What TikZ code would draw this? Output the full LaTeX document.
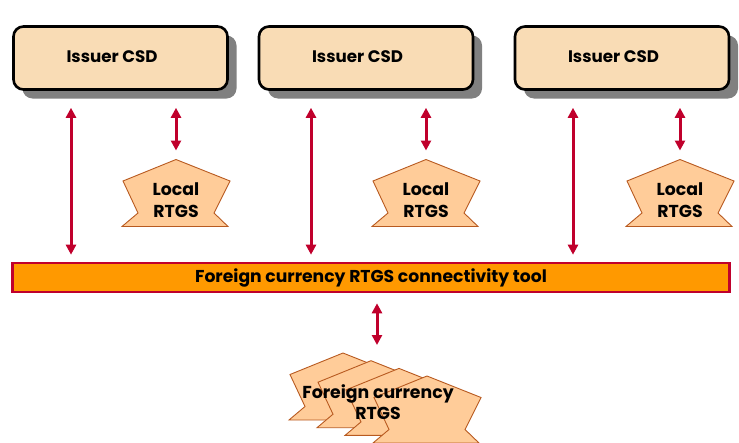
\documentclass[tikz,border=0pt]{standalone}
\usepackage{fontspec}
\setmainfont{Poppins}
\usetikzlibrary{arrows.meta,shadows}

\definecolor{csdfill}{HTML}{F9DCB5}
\definecolor{shadowgrey}{HTML}{808080}
\definecolor{linkred}{HTML}{C0002C}
\definecolor{barfill}{HTML}{FF9900}
\definecolor{barline}{HTML}{C0002C}
\definecolor{rtgsfill}{HTML}{FFCC99}
\definecolor{rtgsline}{HTML}{B85A20}

\tikzset{
  csd/.style={draw=black, line width=2.6pt, fill=csdfill, rounded corners=10pt,
    minimum width=214pt, minimum height=63pt, inner sep=0pt,
    font=\fontsize{16.7}{20}\selectfont\bfseries,
    drop shadow={shadow xshift=9pt, shadow yshift=-9pt, fill=shadowgrey, opacity=1}},
  bar/.style={draw=barline, line width=2.6pt, fill=barfill,
    minimum width=717pt, minimum height=29pt, inner sep=0pt,
    font=\fontsize{17.2}{20}\selectfont\bfseries},
  rtgs/.style={draw=rtgsline, line width=0.9pt, fill=rtgsfill, line join=miter},
  rtgstext/.style={align=center, inner sep=0pt,
    font=\fontsize{17.3}{21.5}\selectfont\bfseries},
  link/.style={draw=linkred, line width=3pt,
    {Triangle[width=10pt,length=10pt]}-{Triangle[width=10pt,length=10pt]}}
}

% outline of an RTGS marker, given its top point
\newcommand\rtgsoutline[1]{%
  \filldraw[rtgs] (#1) -- ++(-53,21.5) -- ++(15,32) -- ++(-16,13.5)
    -- ++(106,0) -- ++(-14,-13.5) -- ++(16,-32) -- cycle;}

\begin{document}
\begin{tikzpicture}[x=1pt,y=-1pt]
\useasboundingbox (0,0) rectangle (739,442);

% issuer CSDs
\node[csd] (csd1) at (120.5,58) {\hspace*{-17pt}\raisebox{2pt}{Issuer CSD}};
\node[csd] (csd2) at (366,58)   {\hspace*{-17pt}\raisebox{2pt}{Issuer CSD}};
\node[csd] (csd3) at (622,58)   {\hspace*{-17pt}\raisebox{2pt}{Issuer CSD}};

% connectivity tool
\node[bar] (tool) at (371,277.5) {Foreign currency RTGS connectivity tool};

% local RTGS markers
\coordinate (loc1top) at (176,159.5);
\coordinate (loc2top) at (426,159.5);
\coordinate (loc3top) at (680,159.5);
\rtgsoutline{loc1top}
\rtgsoutline{loc2top}
\rtgsoutline{loc3top}
\node[rtgstext] (loc1) at (176,200) {Local\\RTGS};
\node[rtgstext] (loc2) at (426,200) {Local\\RTGS};
\node[rtgstext] (loc3) at (680,200) {Local\\RTGS};

% stacked foreign currency RTGS markers
\coordinate (fx1top) at (343,353);
\coordinate (fx2top) at (371,360.7);
\coordinate (fx3top) at (399,368.4);
\coordinate (fx4top) at (427,376);
\rtgsoutline{fx1top}
\rtgsoutline{fx2top}
\rtgsoutline{fx3top}
\rtgsoutline{fx4top}
\node[rtgstext] (fx) at (378,402) {Foreign currency\\RTGS};

% CSD <-> connectivity tool
\draw[link, shorten <=17pt, shorten >=7pt] (csd1.south -| 71,0) -- (tool.north -| 71,0);
\draw[link, shorten <=17pt, shorten >=7pt] (csd2.south -| 311,0) -- (tool.north -| 311,0);
\draw[link, shorten <=17pt, shorten >=7pt] (csd3.south -| 573,0) -- (tool.north -| 573,0);

% CSD <-> local RTGS
\draw[link, shorten <=17pt, shorten >=9pt] (csd1.south -| loc1top) -- (loc1top);
\draw[link, shorten <=17pt, shorten >=9pt] (csd2.south -| loc2top) -- (loc2top);
\draw[link, shorten <=17pt, shorten >=9pt] (csd3.south -| loc3top) -- (loc3top);

% connectivity tool <-> foreign currency RTGS
\coordinate (fxlink) at (377,353);
\draw[link, shorten <=10pt, shorten >=8pt] (tool.south -| fxlink) -- (fxlink);
\end{tikzpicture}
\end{document}
